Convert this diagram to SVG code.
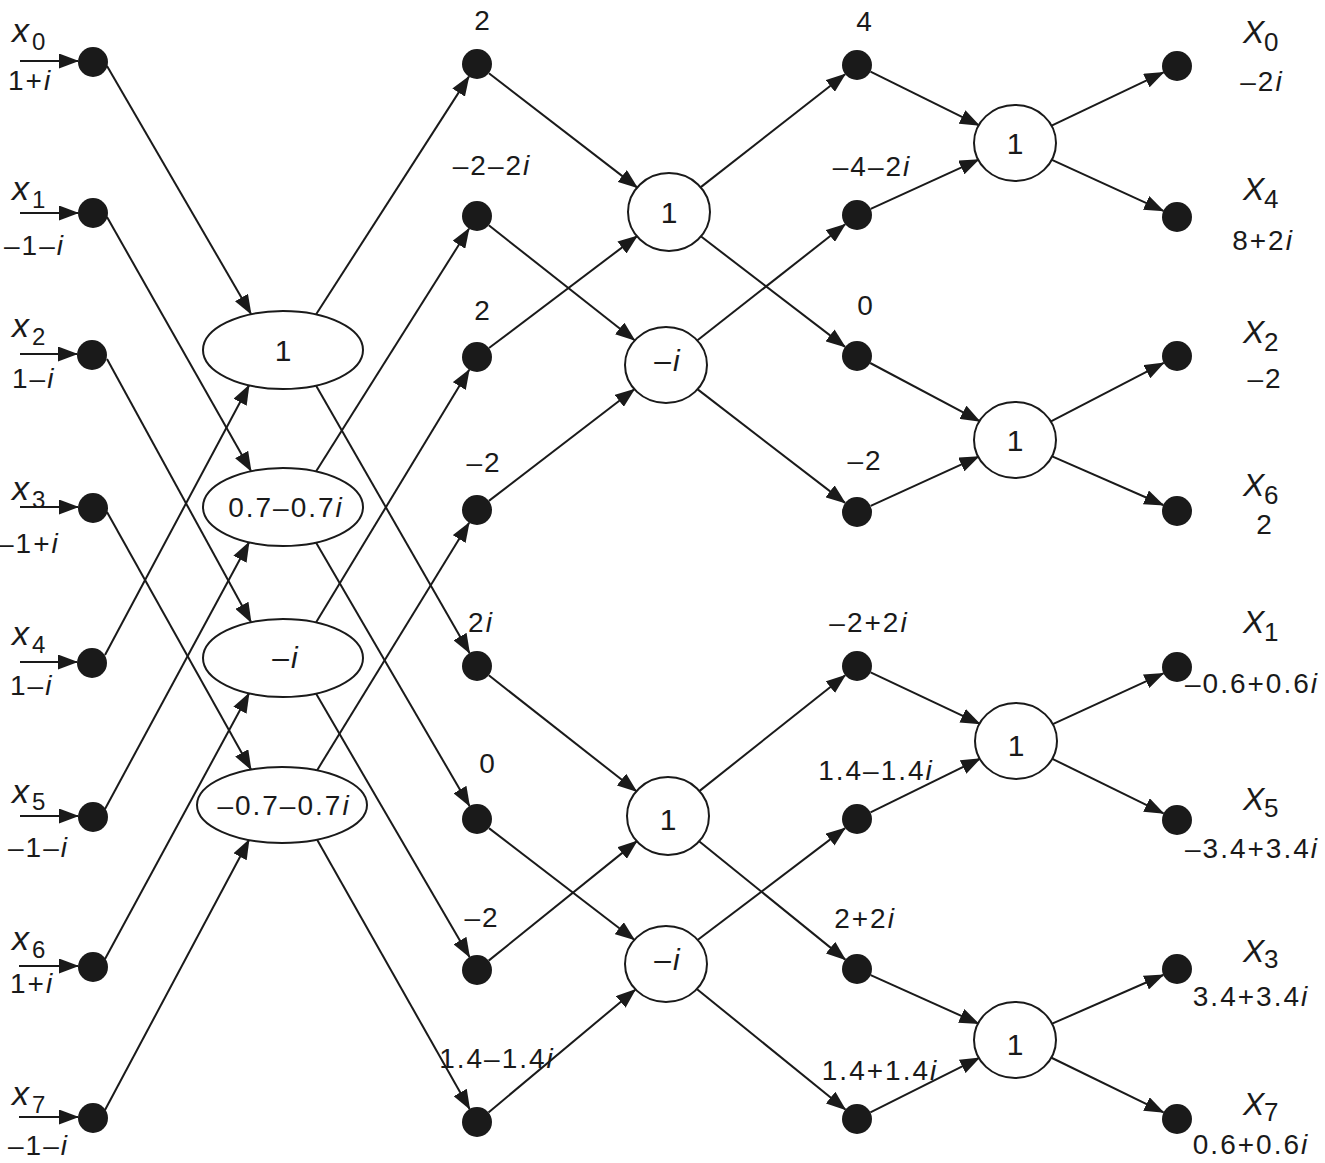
<svg xmlns="http://www.w3.org/2000/svg" width="1325" height="1163" viewBox="0 0 1325 1163">
<style>
  .bg{fill:#ffffff}
  .dot{fill:#1a1a1a}
  .op{fill:#ffffff;stroke:#1a1a1a;stroke-width:2}
  .ln{stroke:#1a1a1a;stroke-width:2;fill:none;marker-end:url(#ah)}
  text{font-family:"Liberation Sans",Arial,Helvetica,sans-serif;fill:#1a1a1a}
  .v{font-size:28px;letter-spacing:2px}
  .o{font-size:30px;letter-spacing:2px}
  .c{text-anchor:middle}
  .it{font-style:italic}
  .xv{font-size:34px;font-style:italic}
  .xs{font-size:24px}
  .XV{font-size:32px;font-style:italic}
  .XS{font-size:26px}
</style>
<defs>
  <marker id="ah" markerUnits="userSpaceOnUse" markerWidth="20" markerHeight="15" refX="19" refY="7.5" orient="auto" viewBox="0 0 20 15">
    <path d="M0,0 L20,7.5 L0,15 Z" fill="#1a1a1a"/>
  </marker>
</defs>
<rect class="bg" x="0" y="0" width="1325" height="1163"/>

<g id="connectors">
  <!-- input arrows -->
  <line class="ln" x1="20" y1="61" x2="78" y2="61"/>
  <line class="ln" x1="20" y1="213" x2="78" y2="213"/>
  <line class="ln" x1="20" y1="354" x2="77" y2="354"/>
  <line class="ln" x1="20" y1="507" x2="78" y2="507"/>
  <line class="ln" x1="20" y1="662" x2="77" y2="662"/>
  <line class="ln" x1="20" y1="816" x2="78" y2="816"/>
  <line class="ln" x1="19" y1="966" x2="78" y2="966"/>
  <line class="ln" x1="19" y1="1117" x2="78" y2="1117"/>
  <!-- stage 0 -> 1 -->
  <line class="ln" x1="107" y1="66" x2="251" y2="314"/>
  <line class="ln" x1="107" y1="217" x2="251" y2="471"/>
  <line class="ln" x1="107" y1="359" x2="251" y2="622"/>
  <line class="ln" x1="107" y1="512" x2="251" y2="769.5"/>
  <line class="ln" x1="105" y1="655" x2="249" y2="385.5"/>
  <line class="ln" x1="105" y1="809" x2="249" y2="542.5"/>
  <line class="ln" x1="105" y1="959" x2="249" y2="693.5"/>
  <line class="ln" x1="105" y1="1110" x2="249" y2="840"/>
  <!-- stage 1 -> 2 -->
  <line class="ln" x1="316" y1="314.5" x2="468.9" y2="76.6"/>
  <line class="ln" x1="316" y1="385.5" x2="469.5" y2="653"/>
  <line class="ln" x1="316" y1="471.5" x2="469" y2="228.7"/>
  <line class="ln" x1="316" y1="542.5" x2="469.5" y2="806"/>
  <line class="ln" x1="316" y1="622.5" x2="469.2" y2="369.8"/>
  <line class="ln" x1="316" y1="693.5" x2="469.5" y2="957"/>
  <line class="ln" x1="317" y1="770.4" x2="469.1" y2="522.8"/>
  <line class="ln" x1="317" y1="839.6" x2="469.6" y2="1109"/>
  <!-- stage 2 -> 3 -->
  <line class="ln" x1="488.9" y1="73.2" x2="637.3" y2="187.6"/>
  <line class="ln" x1="488.8" y1="225.3" x2="634.6" y2="340.2"/>
  <line class="ln" x1="489" y1="348" x2="637.1" y2="236.1"/>
  <line class="ln" x1="488.9" y1="500.9" x2="634.3" y2="389.3"/>
  <line class="ln" x1="488.8" y1="675.3" x2="636.5" y2="791.3"/>
  <line class="ln" x1="488.9" y1="828.1" x2="634.3" y2="939.7"/>
  <line class="ln" x1="488.7" y1="960.6" x2="636.9" y2="841.1"/>
  <line class="ln" x1="488.5" y1="1112.4" x2="635.3" y2="989.7"/>
  <!-- stage 3 -> 4 -->
  <line class="ln" x1="700.5" y1="187.4" x2="845.2" y2="74.2"/>
  <line class="ln" x1="700.8" y1="236.3" x2="845.1" y2="346.9"/>
  <line class="ln" x1="697.5" y1="340.3" x2="845.2" y2="224.3"/>
  <line class="ln" x1="697.7" y1="389.4" x2="845.1" y2="502.9"/>
  <line class="ln" x1="699.3" y1="791.1" x2="845.2" y2="675.3"/>
  <line class="ln" x1="699.1" y1="841.2" x2="845.3" y2="959.6"/>
  <line class="ln" x1="697.9" y1="939.8" x2="845.1" y2="828.1"/>
  <line class="ln" x1="697.1" y1="989.2" x2="845.4" y2="1109.5"/>
  <!-- stage 4 -> 5 -->
  <line class="ln" x1="870.5" y1="71.6" x2="979.1" y2="125.3"/>
  <line class="ln" x1="870.7" y1="208.8" x2="978.6" y2="159.6"/>
  <line class="ln" x1="870.2" y1="363" x2="979.7" y2="421.2"/>
  <line class="ln" x1="870.7" y1="505.8" x2="978.6" y2="456.6"/>
  <line class="ln" x1="870.6" y1="672.4" x2="979.8" y2="723.9"/>
  <line class="ln" x1="870.5" y1="812.4" x2="980.1" y2="758.6"/>
  <line class="ln" x1="870.7" y1="975.1" x2="978.5" y2="1023.6"/>
  <line class="ln" x1="870.4" y1="1112.3" x2="979.2" y2="1057.9"/>
  <!-- stage 5 -> outputs -->
  <line class="ln" x1="1051.1" y1="125.8" x2="1163.5" y2="72.4"/>
  <line class="ln" x1="1051.4" y1="159.6" x2="1163.4" y2="210.8"/>
  <line class="ln" x1="1050.5" y1="421.6" x2="1163.7" y2="362.9"/>
  <line class="ln" x1="1051.6" y1="456.1" x2="1163.3" y2="505"/>
  <line class="ln" x1="1052.3" y1="724.3" x2="1163.4" y2="673.3"/>
  <line class="ln" x1="1051.9" y1="758.6" x2="1163.5" y2="813.4"/>
  <line class="ln" x1="1051.6" y1="1023.9" x2="1163.3" y2="975"/>
  <line class="ln" x1="1051" y1="1057.5" x2="1163.5" y2="1112.4"/>
</g>

<!-- inputs -->
<g id="in0"><circle class="dot" cx="93" cy="62" r="15"/><text class="xv" x="12" y="42">x</text><text class="xs" x="32" y="50">0</text><text class="v" x="8" y="90">1+<tspan class="it">i</tspan></text></g>
<g id="in1"><circle class="dot" cx="93" cy="213" r="15"/><text class="xv" x="12" y="200">x</text><text class="xs" x="32" y="208">1</text><text class="v" x="4" y="255">–1–<tspan class="it">i</tspan></text></g>
<g id="in2"><circle class="dot" cx="92" cy="355" r="15"/><text class="xv" x="12" y="337">x</text><text class="xs" x="32" y="345">2</text><text class="v" x="12" y="388">1–<tspan class="it">i</tspan></text></g>
<g id="in3"><circle class="dot" cx="93" cy="508" r="15"/><text class="xv" x="12" y="500">x</text><text class="xs" x="32" y="508">3</text><text class="v" x="-2" y="553">–1+<tspan class="it">i</tspan></text></g>
<g id="in4"><circle class="dot" cx="92" cy="663" r="15"/><text class="xv" x="12" y="645">x</text><text class="xs" x="32" y="653">4</text><text class="v" x="10" y="695">1–<tspan class="it">i</tspan></text></g>
<g id="in5"><circle class="dot" cx="93" cy="817" r="15"/><text class="xv" x="12" y="803">x</text><text class="xs" x="32" y="810">5</text><text class="v" x="8" y="857">–1–<tspan class="it">i</tspan></text></g>
<g id="in6"><circle class="dot" cx="93" cy="967" r="15"/><text class="xv" x="12" y="950">x</text><text class="xs" x="32" y="958">6</text><text class="v" x="10" y="993">1+<tspan class="it">i</tspan></text></g>
<g id="in7"><circle class="dot" cx="93" cy="1118" r="15"/><text class="xv" x="12" y="1105">x</text><text class="xs" x="32" y="1113">7</text><text class="v" x="8" y="1155">–1–<tspan class="it">i</tspan></text></g>

<!-- stage 1 ellipses -->
<g id="e0"><ellipse class="op" cx="283" cy="350" rx="80" ry="39"/><text class="o c" x="284" y="361">1</text></g>
<g id="e1"><ellipse class="op" cx="283" cy="507" rx="80" ry="39"/><text class="v c" x="286" y="517">0.7–0.7<tspan class="it">i</tspan></text></g>
<g id="e2"><ellipse class="op" cx="283" cy="658" rx="80" ry="39"/><text class="o c" x="286" y="668">–<tspan class="it">i</tspan></text></g>
<g id="e3"><ellipse class="op" cx="282" cy="805" rx="85" ry="38"/><text class="v c" x="284" y="815">–0.7–0.7<tspan class="it">i</tspan></text></g>

<!-- stage 2 dots -->
<g id="s2_0"><circle class="dot" cx="477" cy="64" r="15"/><text class="v c" x="483" y="30">2</text></g>
<g id="s2_1"><circle class="dot" cx="477" cy="216" r="15"/><text class="v c" x="492" y="175">–2–2<tspan class="it">i</tspan></text></g>
<g id="s2_2"><circle class="dot" cx="477" cy="357" r="15"/><text class="v c" x="483" y="320">2</text></g>
<g id="s2_3"><circle class="dot" cx="477" cy="510" r="15"/><text class="v c" x="484" y="472">–2</text></g>
<g id="s2_4"><circle class="dot" cx="477" cy="666" r="15"/><text class="v c" x="481" y="632">2<tspan class="it">i</tspan></text></g>
<g id="s2_5"><circle class="dot" cx="477" cy="819" r="15"/><text class="v c" x="488" y="773">0</text></g>
<g id="s2_6"><circle class="dot" cx="477" cy="970" r="15"/><text class="v c" x="482" y="927">–2</text></g>
<g id="s2_7"><circle class="dot" cx="477" cy="1122" r="15"/><text class="v c" x="497" y="1068">1.4–1.4<tspan class="it">i</tspan></text></g>

<!-- stage 3 circles -->
<g id="c3_0"><ellipse class="op" cx="669" cy="212" rx="41" ry="39"/><text class="o c" x="670" y="223">1</text></g>
<g id="c3_1"><ellipse class="op" cx="666" cy="365" rx="41" ry="38"/><text class="o c" x="668" y="371">–<tspan class="it">i</tspan></text></g>
<g id="c3_2"><ellipse class="op" cx="668" cy="816" rx="41" ry="39"/><text class="o c" x="669" y="830">1</text></g>
<g id="c3_3"><ellipse class="op" cx="666" cy="964" rx="41" ry="38"/><text class="o c" x="668" y="970">–<tspan class="it">i</tspan></text></g>

<!-- stage 4 dots -->
<g id="s4_0"><circle class="dot" cx="857" cy="65" r="15"/><text class="v c" x="865" y="31">4</text></g>
<g id="s4_1"><circle class="dot" cx="857" cy="215" r="15"/><text class="v c" x="872" y="176">–4–2<tspan class="it">i</tspan></text></g>
<g id="s4_2"><circle class="dot" cx="857" cy="356" r="15"/><text class="v c" x="866" y="315">0</text></g>
<g id="s4_3"><circle class="dot" cx="857" cy="512" r="15"/><text class="v c" x="865" y="470">–2</text></g>
<g id="s4_4"><circle class="dot" cx="857" cy="666" r="15"/><text class="v c" x="869" y="632">–2+2<tspan class="it">i</tspan></text></g>
<g id="s4_5"><circle class="dot" cx="857" cy="819" r="15"/><text class="v c" x="876" y="780">1.4–1.4<tspan class="it">i</tspan></text></g>
<g id="s4_6"><circle class="dot" cx="857" cy="969" r="15"/><text class="v c" x="865" y="928">2+2<tspan class="it">i</tspan></text></g>
<g id="s4_7"><circle class="dot" cx="857" cy="1119" r="15"/><text class="v c" x="880" y="1080">1.4+1.4<tspan class="it">i</tspan></text></g>

<!-- stage 5 circles -->
<g id="c5_0"><ellipse class="op" cx="1015" cy="143" rx="41" ry="38"/><text class="o c" x="1016" y="154">1</text></g>
<g id="c5_1"><ellipse class="op" cx="1015" cy="440" rx="41" ry="38"/><text class="o c" x="1016" y="451">1</text></g>
<g id="c5_2"><ellipse class="op" cx="1016" cy="741" rx="41" ry="38"/><text class="o c" x="1017" y="756">1</text></g>
<g id="c5_3"><ellipse class="op" cx="1015" cy="1040" rx="41" ry="38"/><text class="o c" x="1016" y="1055">1</text></g>

<!-- outputs -->
<g id="out0"><circle class="dot" cx="1177" cy="66" r="15"/><text class="XV" x="1243" y="43">X</text><text class="XS" x="1264" y="51">0</text><text class="v c" x="1262" y="91">–2<tspan class="it">i</tspan></text></g>
<g id="out4"><circle class="dot" cx="1177" cy="217" r="15"/><text class="XV" x="1243" y="200">X</text><text class="XS" x="1264" y="208">4</text><text class="v c" x="1263" y="250">8+2<tspan class="it">i</tspan></text></g>
<g id="out2"><circle class="dot" cx="1177" cy="356" r="15"/><text class="XV" x="1243" y="343">X</text><text class="XS" x="1264" y="351">2</text><text class="v c" x="1265" y="388">–2</text></g>
<g id="out6"><circle class="dot" cx="1177" cy="511" r="15"/><text class="XV" x="1243" y="496">X</text><text class="XS" x="1264" y="504">6</text><text class="v c" x="1265" y="534">2</text></g>
<g id="out1"><circle class="dot" cx="1177" cy="667" r="15"/><text class="XV" x="1243" y="633">X</text><text class="XS" x="1264" y="641">1</text><text class="v" x="1185" y="693">–0.6+0.6<tspan class="it">i</tspan></text></g>
<g id="out5"><circle class="dot" cx="1177" cy="820" r="15"/><text class="XV" x="1243" y="810">X</text><text class="XS" x="1264" y="817">5</text><text class="v" x="1185" y="858">–3.4+3.4<tspan class="it">i</tspan></text></g>
<g id="out3"><circle class="dot" cx="1177" cy="969" r="15"/><text class="XV" x="1243" y="962">X</text><text class="XS" x="1264" y="968">3</text><text class="v c" x="1251" y="1006">3.4+3.4<tspan class="it">i</tspan></text></g>
<g id="out7"><circle class="dot" cx="1177" cy="1119" r="15"/><text class="XV" x="1243" y="1115">X</text><text class="XS" x="1264" y="1121">7</text><text class="v c" x="1251" y="1154">0.6+0.6<tspan class="it">i</tspan></text></g>
</svg>
